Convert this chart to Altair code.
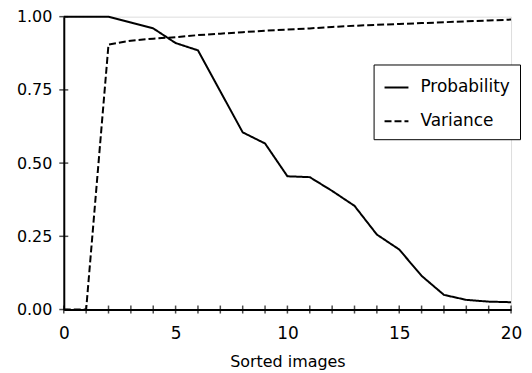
import altair as alt
import pandas as pd

x_vals = list(range(21))
probability = [1.0, 1.0, 1.0, 0.98, 0.96, 0.91, 0.885, 0.745, 0.605, 0.567, 0.455,
               0.452, 0.405, 0.354, 0.256, 0.205, 0.115, 0.05, 0.033, 0.027, 0.025]
variance = [0.0, 0.0, 0.905, 0.918, 0.925, 0.93, 0.937, 0.942, 0.947, 0.952, 0.956,
            0.96, 0.965, 0.969, 0.972, 0.975, 0.978, 0.981, 0.984, 0.987, 0.99]
series_names = ["Probability", "Variance"]
x_ticks = list(range(21))
x_label_values = [0, 5, 10, 15, 20]
y_label_values = [0, 0.25, 0.5, 0.75, 1.0]

rows = []
for name, vals in zip(series_names, [probability, variance]):
    for x, v in zip(x_vals, vals):
        rows.append({"x": x, "value": v, "series": name})
df = pd.DataFrame(rows)
xticks_df = pd.DataFrame({"x": x_ticks, "value": [0.0] * len(x_ticks)})
yticks_df = pd.DataFrame({"x": [0.0] * len(y_label_values), "value": y_label_values})

FONT = "DejaVu Sans"
xscale = alt.Scale(domain=[0, 20], nice=False, zero=False)
yscale = alt.Scale(domain=[0, 1], nice=False)

lines = alt.Chart(df).mark_line(color="black", strokeWidth=2).encode(
    x=alt.X("x:Q", scale=xscale,
            axis=alt.Axis(values=x_label_values, title="Sorted images", ticks=False,
                          labelPadding=16, titlePadding=12, grid=False, labelFlush=False,
                          labelFont=FONT, labelFontSize=17, labelColor="black",
                          titleFont=FONT, titleFontSize=16, titleFontWeight="normal",
                          titleColor="black", domainColor="black", domainWidth=2)),
    y=alt.Y("value:Q", scale=yscale,
            axis=alt.Axis(values=y_label_values, format=".2f", title=None, ticks=False,
                          labelPadding=12, grid=False,
                          labelFont=FONT, labelFontSize=16, labelColor="black",
                          domainColor="black", domainWidth=2)),
    strokeDash=alt.StrokeDash(
        "series:N",
        scale=alt.Scale(domain=series_names, range=[[1, 0], [7, 3]]),
        legend=alt.Legend(orient="none", legendX=311, legendY=48, title=None,
                          symbolType="stroke", symbolSize=576, symbolStrokeWidth=2,
                          symbolStrokeColor="black", labelFont=FONT, labelFontSize=17,
                          labelColor="black", strokeColor="black", fillColor="white",
                          padding=10, rowPadding=13, labelOffset=11, cornerRadius=0),
    ),
)

xticks = alt.Chart(xticks_df).mark_tick(orient="vertical", size=8, thickness=1.5,
                                        color="black").encode(
    x=alt.X("x:Q", scale=xscale),
    y=alt.Y("value:Q", scale=yscale),
)

yticks = alt.Chart(yticks_df).mark_tick(orient="horizontal", size=9, thickness=1.5,
                                        color="black").encode(
    x=alt.X("x:Q", scale=xscale),
    y=alt.Y("value:Q", scale=yscale),
)

chart = alt.layer(xticks, yticks, lines).properties(
    width=449, height=294,
    autosize="none",
    padding={"left": 56, "top": 8, "right": 13, "bottom": 62},
).configure_view(stroke=None).configure(background="white")

chart.save("out.html", embed_options={"renderer": "svg", "actions": False})
